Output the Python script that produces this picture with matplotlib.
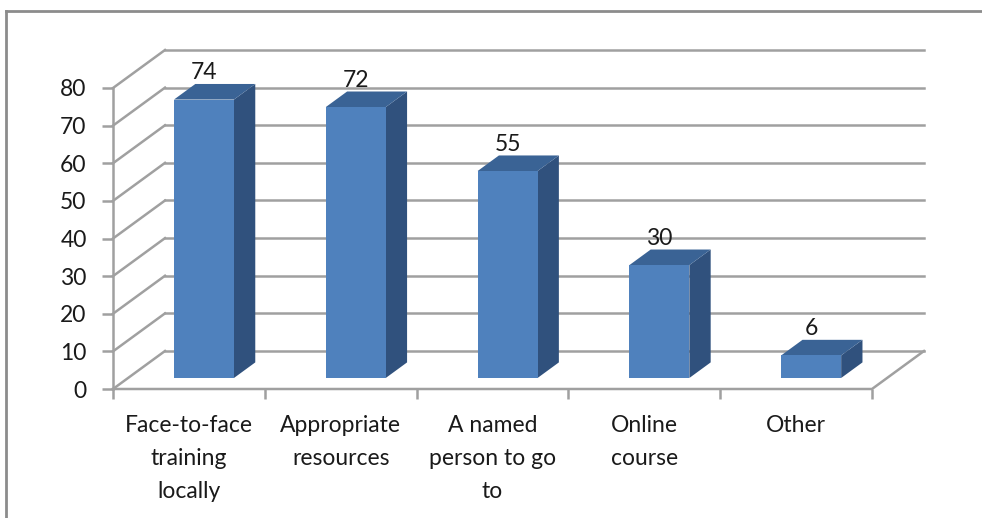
import matplotlib.pyplot as plt
from matplotlib.patches import Polygon
from matplotlib.lines import Line2D

categories = ["Face-to-face\ntraining\nlocally", "Appropriate\nresources",
              "A named\nperson to go\nto", "Online\ncourse", "Other"]
values = [74, 72, 55, 30, 6]
y_ticks = [0, 10, 20, 30, 40, 50, 60, 70, 80]

# fake 3d: how far the back wall sits from the front plane (data units)
DX = 0.3425
DY = 10.1
F0, F1 = 0.29, 0.70   # depth of bar front / back face
BAR_W = 0.395

FRONT = "#4F81BD"
TOP = "#3A6395"
SIDE = "#30517D"
GRID = "#A0A0A0"
TXT = "#1a1a1a"

plt.rcParams['font.family'] = ['Lato', 'DejaVu Sans']

fig = plt.figure(figsize=(9.82, 5.18), dpi=100)
ax = fig.add_axes([113 / 982, 1 - 389 / 518, (872 - 113) / 982, (389 - 88) / 518])
n = len(categories)
ax.set_xlim(0, n)
ax.set_ylim(0, 80)
for s in ax.spines.values():
    s.set_visible(False)


def p(x, v, d):
    return (x + d * DX, v + d * DY)


# walls / gridlines
for v in y_ticks:
    ax.add_line(Line2D([0, DX], [v, v + DY], color=GRID, lw=1.8, clip_on=False))
    ax.add_line(Line2D([DX, n + DX], [v + DY, v + DY], color=GRID, lw=1.8, clip_on=False))
ax.add_line(Line2D([0, 0], [0, 80], color=GRID, lw=1.8, clip_on=False))
ax.add_line(Line2D([0, n, n + DX], [0, 0, DY], color=GRID, lw=1.8, clip_on=False))

# bars
for i, val in enumerate(values):
    x0 = i + 0.5 - BAR_W / 2
    x1 = i + 0.5 + BAR_W / 2
    front = [p(x0, 0, F0), p(x1, 0, F0), p(x1, val, F0), p(x0, val, F0)]
    side = [p(x1, 0, F0), p(x1, 0, F1), p(x1, val, F1), p(x1, val, F0)]
    top = [p(x0, val, F0), p(x1, val, F0), p(x1, val, F1), p(x0, val, F1)]
    ax.add_patch(Polygon(side, closed=True, fc=SIDE, ec="none", clip_on=False, zorder=3))
    ax.add_patch(Polygon(top, closed=True, fc=TOP, ec="none", clip_on=False, zorder=3))
    ax.add_patch(Polygon(front, closed=True, fc=FRONT, ec="none", clip_on=False, zorder=3))
    lx, ly = p(i + 0.5, val, F0)
    ax.text(lx, val + F1 * DY + 1.2, str(val), ha='center', va='baseline',
            fontsize=16.5, color=TXT, zorder=4)

ax.set_yticks(y_ticks)
ax.set_yticklabels([str(v) for v in y_ticks])
ax.set_xticks(range(n + 1))
ax.set_xticklabels([])
ax.set_xticks([i + 0.5 for i in range(n)], minor=True)
ax.set_xticklabels(categories, minor=True, linespacing=1.72)
ax.tick_params(axis='y', length=8, width=1.8, color=GRID, pad=11, labelsize=16.5,
               labelcolor=TXT)
ax.tick_params(axis='x', which='major', length=7, width=1.8, color=GRID)
ax.tick_params(axis='x', which='minor', length=0, pad=18.5, labelsize=16.5,
               labelcolor=TXT)

# chart area border (top and left visible)
fig.add_artist(Line2D([6 / 982, 6 / 982], [0, 1 - 11 / 518], color="#8c8c8c", lw=2))
fig.add_artist(Line2D([6 / 982, 1], [1 - 11 / 518, 1 - 11 / 518], color="#8c8c8c", lw=2))

fig.savefig("out.png", dpi=100)
